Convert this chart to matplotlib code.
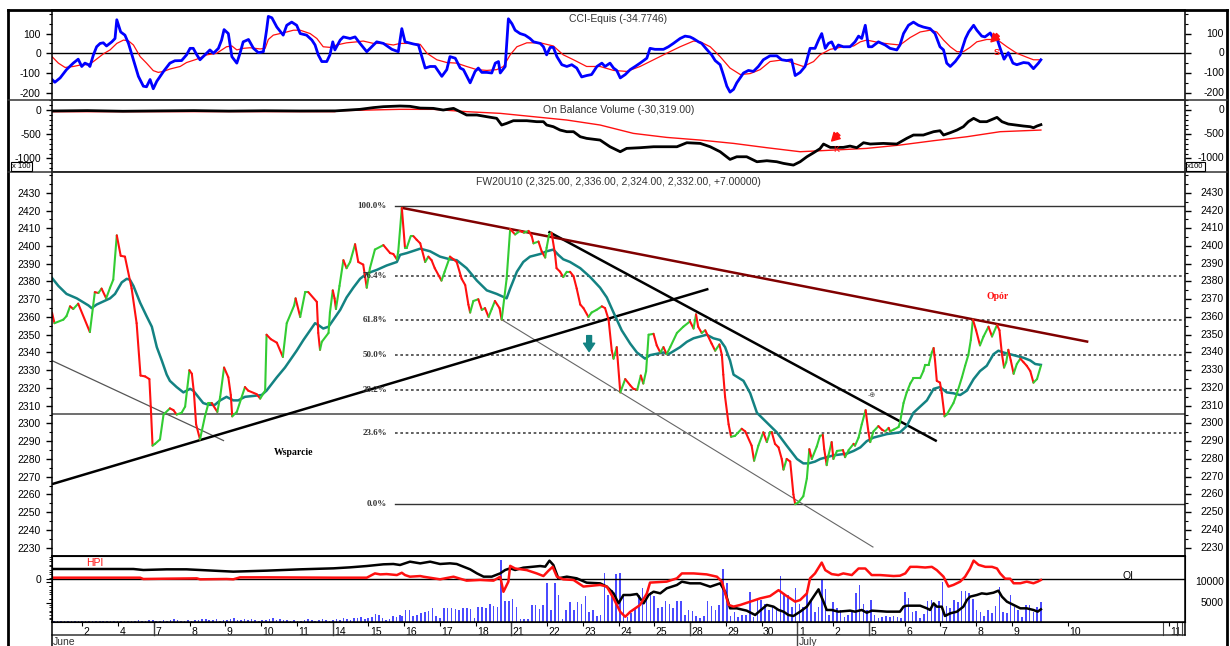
import numpy as np
import matplotlib
matplotlib.use("Agg")
import matplotlib.pyplot as plt
import matplotlib.transforms as mtransforms
from matplotlib.collections import LineCollection
from matplotlib.lines import Line2D
from matplotlib.ticker import MultipleLocator

plt.rcParams['font.family'] = ['Liberation Sans', 'DejaVu Sans']

# ---------------- data (x = trading session index, June 1 = 0) ----------------
price_pts = [
    (0.00, 2362.5), (0.07, 2356.5), (0.32, 2358.5), (0.41, 2360.5), (0.51, 2366), (0.60, 2364.5),
    (0.74, 2367.5), (1.07, 2351.5), (1.21, 2374), (1.31, 2373.5), (1.40, 2376), (1.53, 2370.5),
    (1.64, 2376.5), (1.73, 2381), (1.83, 2406), (1.94, 2394.5), (2.06, 2394), (2.25, 2376),
    (2.39, 2356.5), (2.50, 2327), (2.63, 2326.5), (2.75, 2325), (2.79, 2309.5), (2.84, 2287.5),
    (2.91, 2288.5), (3.05, 2291), (3.15, 2305), (3.33, 2308.5), (3.43, 2307.5), (3.52, 2305),
    (3.66, 2306), (3.76, 2309.5), (3.88, 2330), (3.95, 2328), (4.01, 2317), (4.07, 2299.5),
    (4.18, 2291), (4.32, 2304), (4.42, 2311.5), (4.51, 2311.5), (4.67, 2306.5), (4.75, 2315),
    (4.86, 2331.5), (4.98, 2326), (5.05, 2316), (5.09, 2304), (5.22, 2306.5), (5.45, 2320.5),
    (5.54, 2318.5), (5.78, 2316.5), (5.88, 2314), (6.02, 2318.5), (6.06, 2350), (6.18, 2347.5),
    (6.35, 2345.5), (6.52, 2337.5), (6.63, 2356.5), (6.84, 2366.5), (6.88, 2370.5), (7.01, 2360),
    (7.15, 2374), (7.24, 2374), (7.48, 2368.5), (7.52, 2351), (7.57, 2341.5), (7.62, 2346),
    (7.81, 2351), (7.85, 2362.5), (7.93, 2375), (7.98, 2370.5), (8.02, 2364.5), (8.12, 2377.5),
    (8.23, 2392), (8.32, 2387.5), (8.42, 2391), (8.56, 2401), (8.65, 2391), (8.79, 2389.5),
    (8.89, 2376.5), (8.98, 2387.5), (9.12, 2398), (9.36, 2400.5), (9.55, 2396), (9.64, 2395.5),
    (9.74, 2392.5), (9.78, 2397), (9.88, 2421.5), (9.97, 2399), (10.02, 2399), (10.13, 2405.5),
    (10.21, 2405.5), (10.30, 2403.5), (10.40, 2401.5), (10.54, 2391), (10.63, 2394), (10.72, 2392),
    (10.81, 2387.5), (11.00, 2380.5), (11.09, 2385.5), (11.24, 2394), (11.34, 2392.5), (11.43, 2391),
    (11.57, 2381.5), (11.67, 2378), (11.76, 2367), (11.81, 2362.5), (11.90, 2369), (12.04, 2370),
    (12.14, 2364), (12.23, 2365), (12.33, 2360), (12.42, 2364.5), (12.51, 2369), (12.64, 2365),
    (12.70, 2358.5), (12.84, 2381.5), (12.94, 2409.5), (13.08, 2406.5), (13.22, 2408.5), (13.33, 2407.5),
    (13.46, 2408.5), (13.55, 2405.5), (13.60, 2401.5), (13.74, 2402.5), (13.83, 2397), (13.93, 2393.5),
    (13.97, 2399), (14.04, 2406.5), (14.11, 2407.5), (14.21, 2395), (14.25, 2387.5), (14.35, 2385.5),
    (14.44, 2382.5), (14.54, 2385.5), (14.63, 2385.5), (14.73, 2383), (14.82, 2376), (14.92, 2367),
    (15.01, 2365), (15.15, 2360), (15.24, 2362.5), (15.38, 2364), (15.53, 2366), (15.62, 2365),
    (15.72, 2358.5), (15.81, 2341), (15.86, 2336.5), (15.95, 2343), (16.05, 2317.5), (16.19, 2325),
    (16.33, 2321.5), (16.42, 2319.5), (16.53, 2319), (16.63, 2327), (16.70, 2322.5), (16.78, 2329.5),
    (16.85, 2350), (16.99, 2350.5), (17.08, 2344), (17.18, 2340), (17.27, 2343), (17.36, 2339),
    (17.46, 2343), (17.65, 2351), (17.83, 2354.5), (18.02, 2357.5), (18.12, 2353.5), (18.19, 2361.5),
    (18.25, 2354.5), (18.35, 2351), (18.45, 2352.5), (18.63, 2345), (18.73, 2341), (18.85, 2344.5),
    (18.92, 2338.5), (18.96, 2327.5), (19.01, 2315), (19.11, 2299.5), (19.18, 2292.5), (19.29, 2293),
    (19.48, 2297), (19.58, 2295.5), (19.76, 2287.5), (19.83, 2279), (19.95, 2287.5), (20.09, 2295),
    (20.19, 2289.5), (20.28, 2295), (20.33, 2295), (20.42, 2288.5), (20.52, 2286.5), (20.61, 2280),
    (20.66, 2274), (20.75, 2280), (20.85, 2278.5), (20.94, 2260), (20.99, 2254.5), (21.08, 2255.5),
    (21.22, 2259), (21.32, 2269), (21.39, 2285.5), (21.46, 2280), (21.60, 2287), (21.69, 2293),
    (21.77, 2293.5), (21.81, 2285.5), (21.88, 2276.5), (21.93, 2282), (22.02, 2289.5), (22.07, 2280),
    (22.17, 2284.5), (22.34, 2285), (22.40, 2281), (22.50, 2285), (22.64, 2288.5), (22.68, 2287.5),
    (22.78, 2292), (22.87, 2299.5), (22.98, 2307.5), (23.06, 2295), (23.11, 2289.5), (23.20, 2295.5),
    (23.34, 2298.5), (23.44, 2296.5), (23.53, 2295.5), (23.63, 2297.5), (23.67, 2295.5), (23.77, 2296.5),
    (23.91, 2298), (23.95, 2300.5), (24.05, 2311.5), (24.14, 2317.5), (24.24, 2322.5), (24.33, 2325.5),
    (24.52, 2325.5), (24.61, 2329.5), (24.66, 2333), (24.76, 2333), (24.85, 2340), (24.90, 2342.5),
    (24.94, 2335.5), (24.99, 2324), (25.08, 2323), (25.13, 2317), (25.21, 2304), (25.27, 2305),
    (25.46, 2311.5), (25.56, 2317), (25.70, 2326), (25.79, 2332.5), (25.88, 2338.5), (25.95, 2347),
    (26.01, 2358.5), (26.10, 2352.5), (26.21, 2344), (26.31, 2349), (26.45, 2354.5), (26.55, 2349),
    (26.69, 2355.5), (26.76, 2352.5), (26.83, 2339), (26.89, 2331.5), (26.95, 2334.5), (27.01, 2341.5),
    (27.08, 2335.5), (27.16, 2328), (27.25, 2333.5), (27.35, 2336.5), (27.44, 2334.5), (27.53, 2332.5),
    (27.63, 2329.5), (27.72, 2323), (27.82, 2325), (27.93, 2332.5),
]

price_ma = [
    (0.00, 2382), (0.18, 2377.5), (0.41, 2373), (0.70, 2370.5), (1.03, 2366.5), (1.12, 2365),
    (1.26, 2367), (1.64, 2370.5), (1.78, 2373), (1.97, 2379.5), (2.11, 2381.5), (2.20, 2381),
    (2.30, 2377.5), (2.49, 2368), (2.67, 2360.5), (2.82, 2354.5), (2.96, 2343), (3.10, 2335.5),
    (3.24, 2327.5), (3.33, 2324), (3.52, 2320.5), (3.71, 2317.5), (3.90, 2319.5), (3.99, 2318.5),
    (4.13, 2315), (4.27, 2311.5), (4.42, 2310.5), (4.60, 2310.5), (4.75, 2313), (4.93, 2315),
    (5.12, 2313), (5.26, 2313), (5.45, 2315), (5.92, 2316), (6.06, 2318.5), (6.35, 2326),
    (6.58, 2331.5), (6.72, 2335.5), (6.91, 2341), (7.10, 2347), (7.29, 2352.5), (7.43, 2356.5),
    (7.52, 2355.5), (7.66, 2353.5), (7.81, 2354.5), (7.95, 2358.5), (8.14, 2364), (8.32, 2371),
    (8.51, 2376.5), (8.70, 2381.5), (8.89, 2384.5), (9.17, 2386.5), (9.45, 2389), (9.74, 2391),
    (9.83, 2395), (10.02, 2396), (10.40, 2398.5), (10.68, 2397), (10.96, 2394), (11.24, 2392.5),
    (11.43, 2392), (11.71, 2387.5), (12.00, 2380.5), (12.28, 2375), (12.56, 2373), (12.84, 2370.5),
    (12.94, 2376), (13.13, 2385.5), (13.31, 2391), (13.50, 2394), (13.79, 2395.5), (13.97, 2397),
    (14.16, 2398), (14.30, 2395), (14.44, 2392.5), (14.63, 2391), (14.92, 2387.5), (15.20, 2382.5),
    (15.48, 2376.5), (15.67, 2371), (15.86, 2362.5), (16.09, 2352.5), (16.33, 2345), (16.52, 2340),
    (16.75, 2336.5), (16.89, 2338.5), (17.27, 2340), (17.41, 2339), (17.74, 2343), (17.93, 2346),
    (18.12, 2348), (18.49, 2350), (18.68, 2348), (18.87, 2347), (19.01, 2343), (19.15, 2335.5),
    (19.25, 2327.5), (19.53, 2324), (19.72, 2317), (19.91, 2306), (20.19, 2300.5), (20.47, 2295),
    (20.75, 2287.5), (21.04, 2280), (21.22, 2277.5), (21.37, 2277.5), (21.55, 2278.5), (21.70, 2280),
    (21.88, 2281), (22.07, 2282), (22.45, 2283), (22.64, 2284.5), (22.83, 2286.5), (23.01, 2290),
    (23.20, 2292), (23.58, 2294), (23.95, 2295), (24.14, 2298.5), (24.33, 2306), (24.52, 2309.5),
    (24.71, 2313), (24.90, 2319.5), (25.08, 2320.5), (25.27, 2317.5), (25.46, 2317), (25.65, 2316),
    (25.84, 2318.5), (26.03, 2325), (26.21, 2329.5), (26.40, 2332.5), (26.59, 2339), (26.73, 2341),
    (26.87, 2340), (27.16, 2338.5), (27.44, 2337), (27.63, 2335.5), (27.77, 2333.5), (27.93, 2333),
]

cci = [
    (0.00, -133), (0.08, -147), (0.23, -125), (0.41, -83), (0.60, -50), (0.74, -30), (0.84, -67),
    (0.93, -50), (1.03, -58), (1.07, -67), (1.17, -8), (1.26, 33), (1.36, 50), (1.45, 53), (1.54, 37),
    (1.69, 58), (1.78, 75), (1.83, 170), (1.87, 147), (1.94, 108), (2.06, 92), (2.16, 50), (2.30, -33),
    (2.44, -117), (2.58, -167), (2.67, -170), (2.77, -133), (2.86, -180), (2.96, -142), (3.15, -92),
    (3.33, -50), (3.47, -38), (3.66, -37), (3.80, -8), (3.90, 25), (3.99, 25), (4.09, -8), (4.18, -33),
    (4.32, -8), (4.46, 17), (4.56, 0), (4.70, 25), (4.79, 67), (4.86, 120), (4.98, 100), (5.08, -17),
    (5.22, -50), (5.31, 0), (5.40, 58), (5.55, 70), (5.69, 25), (5.83, 3), (5.97, 8), (6.06, 117),
    (6.11, 187), (6.21, 180), (6.35, 133), (6.53, 92), (6.63, 142), (6.77, 158), (6.91, 142), (7.01, 100),
    (7.19, 92), (7.34, 67), (7.43, 42), (7.52, -8), (7.62, -42), (7.76, -42), (7.85, -8), (7.93, 58),
    (7.99, 17), (8.14, 67), (8.23, 83), (8.42, 75), (8.56, 83), (8.70, 50), (8.89, 8), (9.03, 33),
    (9.17, 58), (9.36, 50), (9.60, 20), (9.78, 8), (9.88, 125), (9.97, 58), (10.21, 47), (10.35, 42),
    (10.54, -75), (10.68, -67), (10.82, -67), (11.01, -117), (11.15, -83), (11.24, -17), (11.39, -25),
    (11.53, -75), (11.62, -83), (11.81, -150), (11.95, -92), (12.04, -75), (12.14, -97), (12.28, -97),
    (12.42, -100), (12.52, -50), (12.61, -42), (12.66, -100), (12.80, -67), (12.89, 175), (12.99, 150),
    (13.08, 117), (13.22, 100), (13.36, 92), (13.50, 75), (13.60, 58), (13.79, 50), (13.88, 33),
    (13.97, -8), (14.07, 30), (14.16, 30), (14.26, -17), (14.40, -58), (14.54, -67), (14.68, -58),
    (14.82, -75), (14.96, -120), (15.10, -113), (15.24, -108), (15.39, -67), (15.53, -50), (15.62, -67),
    (15.76, -50), (15.86, -75), (15.95, -87), (16.05, -125), (16.19, -108), (16.33, -83), (16.47, -67),
    (16.61, -50), (16.80, -25), (16.89, 25), (17.03, 20), (17.27, 20), (17.41, 33), (17.55, 50),
    (17.74, 75), (17.88, 87), (18.02, 83), (18.11, 75), (18.26, 58), (18.35, 50), (18.49, 20),
    (18.63, -8), (18.73, -37), (18.87, -58), (18.96, -108), (19.06, -167), (19.15, -197), (19.25, -183),
    (19.34, -150), (19.53, -100), (19.67, -87), (19.81, -92), (19.95, -67), (20.09, -33), (20.28, -13),
    (20.47, -13), (20.61, -33), (20.75, -37), (20.89, -33), (20.99, -113), (21.13, -97), (21.27, -67),
    (21.41, 25), (21.55, 25), (21.65, 67), (21.74, 100), (21.84, 25), (21.93, 50), (22.02, 58),
    (22.12, 20), (22.21, 42), (22.35, 33), (22.54, 33), (22.68, 58), (22.78, 87), (22.87, 75),
    (22.97, 142), (23.06, 33), (23.16, 33), (23.34, 58), (23.53, 42), (23.67, 25), (23.86, 17),
    (23.95, 42), (24.05, 100), (24.19, 142), (24.33, 158), (24.47, 142), (24.61, 133), (24.80, 125),
    (24.94, 100), (25.08, 33), (25.18, 17), (25.27, -50), (25.37, -67), (25.51, -42), (25.65, -8),
    (25.80, 75), (25.89, 108), (26.03, 142), (26.12, 117), (26.26, 87), (26.35, 83), (26.50, 103),
    (26.59, 75), (26.68, 80), (26.78, 25), (26.89, -30), (27.01, 3), (27.14, -50), (27.25, -58),
    (27.44, -47), (27.58, -50), (27.72, -78), (27.86, -50), (27.93, -33),
]

cci_ma = [
    (0.00, -17), (0.18, -50), (0.37, -72), (0.60, -67), (0.84, -58), (1.03, -58), (1.17, -42),
    (1.45, -3), (1.64, 17), (1.83, 50), (2.02, 67), (2.16, 63), (2.30, 42), (2.49, -17), (2.67, -50),
    (2.86, -88), (3.00, -97), (3.15, -92), (3.33, -80), (3.62, -67), (3.80, -47), (4.09, -30),
    (4.37, -8), (4.65, 0), (4.93, 33), (5.08, 37), (5.22, 17), (5.40, 25), (5.59, 28), (5.88, 22),
    (6.02, 25), (6.11, 70), (6.25, 92), (6.44, 100), (6.63, 108), (6.82, 117), (7.01, 117), (7.29, 100),
    (7.48, 75), (7.66, 33), (7.85, 30), (8.04, 42), (8.32, 53), (8.61, 58), (8.79, 62), (9.08, 50),
    (9.36, 50), (9.64, 42), (9.83, 50), (10.11, 50), (10.40, 45), (10.59, 0), (10.87, -33), (11.15, -47),
    (11.43, -50), (11.71, -67), (12.00, -83), (12.28, -87), (12.56, -83), (12.75, -67), (12.94, -8),
    (13.13, 33), (13.41, 53), (13.79, 53), (14.16, 37), (14.44, -8), (14.73, -33), (15.10, -67),
    (15.48, -67), (15.86, -87), (16.23, -92), (16.61, -67), (16.99, -33), (17.36, 0), (17.74, 33),
    (18.12, 62), (18.31, 58), (18.59, 33), (18.87, -17), (19.15, -75), (19.44, -108), (19.72, -103),
    (20.00, -83), (20.28, -42), (20.66, -33), (20.94, -50), (21.22, -67), (21.51, -42), (21.69, -8),
    (21.98, 20), (22.35, 33), (22.64, 37), (22.83, 58), (23.01, 67), (23.39, 53), (23.67, 47),
    (23.95, 42), (24.24, 80), (24.52, 108), (24.80, 117), (24.99, 108), (25.18, 67), (25.37, 33),
    (25.56, 8), (25.74, 8), (25.93, 30), (26.12, 58), (26.40, 70), (26.69, 70), (26.97, 33),
    (27.25, 0), (27.53, -20), (27.72, -33), (27.93, -33),
]

# On Balance Volume, in hundreds of contracts
obv = [
    (0.0, -20), (1.0, -12), (2.0, -25), (3.0, -18), (4.0, -12), (5.0, -22), (6.0, -15), (7.0, -20),
    (8.0, -18), (8.70, 14), (9.08, 50), (9.36, 69), (9.83, 83), (10.11, 76), (10.40, 40), (10.77, 34),
    (11.05, 0), (11.34, 34), (11.71, -103), (12.00, -103), (12.28, -138), (12.56, -172), (12.70, -310),
    (12.84, -276), (13.03, -221), (13.41, -221), (13.69, -241), (13.88, -241), (13.97, -310),
    (14.16, -345), (14.35, -414), (14.54, -448), (14.73, -448), (14.92, -552), (15.10, -586),
    (15.48, -621), (15.76, -759), (16.05, -862), (16.23, -793), (16.61, -779), (16.99, -759),
    (17.36, -759), (17.65, -759), (17.93, -676), (18.31, -690), (18.59, -759), (18.87, -862),
    (19.15, -1021), (19.34, -966), (19.62, -966), (19.91, -1069), (20.19, -1048), (20.47, -1069),
    (20.66, -1103), (20.94, -1138), (21.13, -1069), (21.32, -966), (21.51, -883), (21.69, -800),
    (21.79, -703), (21.98, -772), (22.35, -772), (22.54, -745), (22.73, -779), (22.92, -676),
    (23.11, -703), (23.48, -690), (23.86, -703), (24.14, -586), (24.33, -517), (24.61, -517),
    (24.90, -448), (25.08, -428), (25.18, -517), (25.37, -469), (25.56, -414), (25.74, -345),
    (25.88, -241), (26.03, -172), (26.21, -241), (26.40, -241), (26.69, -152), (26.83, -241),
    (27.01, -290), (27.44, -331), (27.63, -345), (27.72, -366), (27.82, -331), (27.93, -303),
]
obv_ma = [
    (0.0, -35), (5.0, -33), (7.98, -34), (8.10, -14), (9.83, 14), (10.77, 14), (11.71, -34),
    (12.66, -69), (13.60, -138), (14.54, -207), (15.48, -310), (16.42, -483), (17.36, -566),
    (18.31, -621), (19.25, -690), (20.19, -779), (21.13, -862), (22.07, -828), (23.01, -793),
    (23.95, -724), (24.90, -634), (25.84, -552), (26.78, -448), (27.93, -414),
]

# open interest (right scale) and HPI (left scale)
oi = [
    (0.00, 13140), (2.30, 13140), (2.58, 12900), (3.24, 13060), (3.80, 13060), (4.56, 12740),
    (5.12, 12500), (6.06, 12740), (7.01, 13060), (7.95, 13300), (8.42, 13540), (8.89, 13860),
    (9.36, 14270), (9.64, 14350), (9.83, 14110), (9.97, 14510), (10.11, 14910), (10.40, 14500),
    (10.68, 14910), (10.96, 14350), (11.24, 14510), (11.43, 14350), (11.62, 13700), (11.81, 13060),
    (12.00, 12090), (12.19, 11290), (12.42, 11290), (12.66, 12090), (12.80, 12900), (12.94, 13300),
    (13.08, 12900), (13.31, 13460), (13.60, 13700), (13.79, 13860), (13.93, 13700), (14.05, 15150),
    (14.16, 14110), (14.30, 10890), (14.54, 11290), (14.82, 10890), (15.10, 9840), (15.48, 9680),
    (15.67, 8870), (15.86, 7260), (16.00, 4850), (16.14, 6860), (16.33, 6860), (16.52, 7100),
    (16.71, 4850), (16.85, 6860), (16.99, 7660), (17.18, 7260), (17.36, 8470), (17.65, 9280),
    (17.79, 10080), (18.02, 9680), (18.31, 9680), (18.59, 8870), (18.87, 9680), (19.01, 7660),
    (19.15, 3640), (19.34, 3640), (19.62, 3080), (19.86, 2030), (20.00, 3080), (20.19, 4450),
    (20.38, 4040), (20.52, 3240), (20.66, 2840), (20.80, 2030), (20.94, 1790), (21.13, 2840),
    (21.32, 4040), (21.51, 6460), (21.65, 8230), (21.69, 7260), (21.79, 5250), (21.88, 3240),
    (22.02, 3240), (22.21, 2840), (22.54, 3080), (22.68, 2840), (22.87, 3240), (23.01, 2590),
    (23.16, 3080), (23.58, 2840), (23.95, 2840), (24.05, 4040), (24.14, 4280), (24.52, 4280),
    (24.71, 3640), (24.80, 3240), (24.90, 4850), (24.99, 4040), (25.13, 4040), (25.22, 1790),
    (25.37, 2430), (25.56, 2840), (25.74, 4040), (25.84, 5650), (25.93, 6460), (26.12, 6860),
    (26.26, 7260), (26.40, 7100), (26.59, 7420), (26.73, 7910), (26.83, 6460), (26.97, 5250),
    (27.16, 4450), (27.35, 3640), (27.53, 3640), (27.72, 3240), (27.84, 2840), (27.93, 3400),
]
hpi = [
    (0.00, 4), (2.49, 4), (2.58, 0), (3.24, 1), (4.09, 2), (4.18, -1), (4.93, 0), (5.12, -1),
    (5.31, 5), (6.06, 5), (7.95, 4), (8.89, 4), (9.12, 17), (9.27, 14), (9.45, 15), (9.74, 12),
    (9.88, 19), (9.97, 12), (10.11, 7), (10.40, 9), (10.49, 7), (10.96, -1), (11.34, 7), (11.71, -5),
    (12.09, -3), (12.47, -5), (12.66, 7), (12.75, -39), (12.89, -8), (12.94, 40), (13.08, 32),
    (13.41, 27), (13.69, 17), (13.88, 9), (14.02, 25), (14.14, 37), (14.26, 7), (14.44, -1),
    (14.73, -3), (15.01, -23), (15.48, -18), (15.67, -23), (15.86, -59), (16.05, -100), (16.19, -115),
    (16.33, -100), (16.61, -79), (16.80, -44), (16.89, -11), (17.36, -8), (17.65, 2), (17.79, 17),
    (18.12, 17), (18.49, 14), (18.78, 7), (18.92, -8), (19.11, -79), (19.25, -84), (19.44, -79),
    (19.72, -69), (20.00, -59), (20.28, -52), (20.52, -34), (20.71, -49), (20.85, -59), (20.99, -69),
    (21.13, -64), (21.32, -44), (21.41, 2), (21.55, 17), (21.74, 50), (21.84, 27), (22.02, 15),
    (22.21, 12), (22.35, 17), (22.59, 12), (22.78, 32), (22.97, 32), (23.15, 12), (23.39, 12),
    (23.77, 9), (23.95, 10), (24.10, 17), (24.24, 37), (24.43, 37), (24.66, 35), (24.85, 37),
    (24.99, 27), (25.18, 7), (25.32, -23), (25.46, -18), (25.65, -8), (25.79, 7), (25.93, 32),
    (26.03, 56), (26.17, 43), (26.36, 37), (26.55, 37), (26.69, 32), (26.78, 17), (26.92, 1),
    (27.06, 1), (27.16, -13), (27.35, -13), (27.53, -8), (27.72, -13), (27.84, -8), (27.93, -3),
]

# hourly volume, three stretches of the chart
vol_early = [600, 500, 600, 700, 500, 600, 500, 600, 700, 500, 600, 700, 500, 600, 500, 700, 600, 500, 600, 500,
             500, 600, 700, 600, 800, 700, 600, 800, 900, 700, 600, 800, 700, 900, 1100, 800, 700, 600, 800, 700,
             900, 800, 1000, 1100, 900, 800, 1000, 700, 900, 800, 1000, 1200, 900, 800, 1100, 900, 1000, 800, 700, 900,
             800, 1000, 1200, 900, 1100, 800, 900, 700, 800, 600, 700, 900, 1000, 800, 700, 900, 1100, 800, 700, 900,
             1000, 900, 1200, 1100, 900, 1300, 1200, 1500, 1000, 1400, 1600, 2300, 2000, 1200, 800, 1000, 1800, 1600, 2000]
vol_mid = [1800, 3200, 3200, 1800, 2000, 2600, 2800, 3000, 3600, 1800, 1200, 3600, 3600, 3600, 3400, 3200, 3800, 3600,
           3400, 1200, 4000, 4000, 3800, 4800, 4200, 4000, 15200, 5400, 5400, 5800, 4000, 1000, 1000, 1000, 4400, 4400,
           3400, 4400, 9700, 3200, 9700, 6900, 1000, 3200, 5200, 3200, 5200, 4800, 6600, 2800, 3200, 1800, 2000, 12100,
           6900, 8100, 11900, 12100, 6500, 1600, 2400, 3400, 6900, 8500, 7300, 7700, 6600, 3600, 4000, 5400, 4800, 3600,
           5400, 5400, 2000, 3200, 3000, 1800, 1200, 1800, 5400, 4200, 3200, 4400, 13100, 9700, 1800, 2800, 1500, 2000,
           2000, 7700, 1600, 5700, 5700, 4800, 3200, 4200, 3200, 11400, 7300, 6900, 4000, 8500, 4800, 4000, 8100, 5700,
           2800, 4000]
vol_late = [10600, 8200, 2000, 5200, 3600, 3200, 1600, 2000, 3200, 7400, 9300, 4800, 3200, 5700, 2000, 1200, 1600, 1800,
            1600, 1800, 1600, 1200, 7700, 6100, 2800, 3000, 1200, 2300, 5500, 5700, 4400, 5400, 10100, 4200, 3600, 5700,
            5200, 7900, 7900, 7400, 5800, 3200, 2800, 1800, 3200, 2600, 4200, 8900, 2800, 2400, 6900, 4000, 3200, 1600,
            4400, 4400, 2800, 4000, 5200]
vol_spans = [(0.05, 9.83), (9.88, 21.65), (21.74, 27.93)]

# trend lines drawn on the price chart: (x0, y0, x1, y1)
resistance = (9.88, 2421.5, 29.27, 2346)
support = (0.0, 2265.8, 18.54, 2375.8)
down_line = (14.02, 2408.1, 24.99, 2290.0)
channel_line = (12.70, 2358.5, 23.20, 2230.2)
left_line = (0.0, 2335.4, 4.86, 2290.2)
pivot_level = 2305.2
fib_low, fib_high = 2254.8, 2422.7
fib_levels = [0.0, 23.6, 38.2, 50.0, 61.8, 76.4, 100.0]
fib_start = 9.69

session_ticks = [0.857, 1.867, 2.876, 3.886, 4.895, 5.905, 6.915, 7.924, 8.934, 9.943, 10.953, 11.963,
                 12.972, 13.982, 14.991, 16.001, 17.011, 18.02, 19.03, 20.04, 21.049, 22.059, 23.068,
                 24.078, 25.088, 26.097, 27.107, 28.7, 31.55]
session_labels = ['2', '4', '7', '8', '9', '10', '11', '14', '15', '16', '17', '18', '21', '22', '23', '24',
                  '25', '28', '29', '30', '1', '2', '5', '6', '7', '8', '9', '10', '11']
week_starts = [2.876, 7.924, 12.972, 18.02, 23.068]
month_start = 21.049

# ---------------- layout ----------------
W, H = 1230, 646
FS = 7.5
GREEN, RED, TEAL, BLUE = '#33cc33', '#ff1010', '#138282', '#0000ff'
X0, X1 = 52, 1185
XLIM = (0, 32.0)
ARROW = dict(arrowstyle='simple,head_width=0.9,head_length=0.8,tail_width=0.4',
             mutation_scale=7, shrinkA=0, shrinkB=0)


def fx(px):
    return px / W


def fy(py):
    return 1 - py / H


def panel(top, bottom):
    return fig.add_axes([fx(X0), fy(bottom), fx(X1) - fx(X0), (bottom - top) / H])


def xy(pts):
    a = np.array(pts, dtype=float)
    return a[:, 0], a[:, 1]


def right_labels(ax, ticks, labels):
    tr = mtransforms.blended_transform_factory(ax.transAxes, ax.transData)
    xr = (1224 - X0) / (X1 - X0)
    for t, s in zip(ticks, labels):
        ax.text(xr, t, s, transform=tr, ha='right', va='center', fontsize=FS, clip_on=False)


def style(ax, ticks, labels, minor):
    ax.set_xlim(*XLIM)
    ax.set_yticks(ticks)
    ax.set_yticklabels(labels, fontsize=FS)
    ax.yaxis.set_minor_locator(MultipleLocator(minor))
    ax.tick_params(axis='y', which='major', direction='out', length=4, width=1, pad=4,
                   left=True, right=True, labelleft=True, labelright=False)
    ax.tick_params(axis='y', which='minor', direction='out', length=2, width=0.8, left=True, right=True)
    ax.tick_params(axis='x', which='both', bottom=False, labelbottom=False)
    for s in ax.spines.values():
        s.set_linewidth(1.1)
    right_labels(ax, ticks, labels)


fig = plt.figure(figsize=(W / 100, H / 100), dpi=100)
fig.patch.set_facecolor('white')

# ---- CCI ----
ax_cci = panel(9.5, 100)
ax_cci.set_ylim(-237, 222)
style(ax_cci, [100, 0, -100, -200], ['100', '0', '-100', '-200'], 50)
ax_cci.axhline(0, color='black', lw=1)
ax_cci.plot(*xy(cci_ma), color=RED, lw=0.9)
ax_cci.plot(*xy(cci), color=BLUE, lw=2.0)
ax_cci.text(0.5, 0.9, 'CCI-Equis (-34.7746)', transform=ax_cci.transAxes, ha='center', va='center',
            fontsize=FS, color='#333333')
ax_cci.annotate('', xy=(26.52, 58), xytext=(5, 5), textcoords='offset points',
                arrowprops=dict(color=RED, **ARROW))
ax_cci.text(26.67, 3, 'S', color=RED, fontsize=6.5, ha='center', va='center', fontweight='bold')

# ---- OBV ----
ax_obv = panel(100, 172)
ax_obv.set_ylim(-1281, 207)
style(ax_obv, [0, -500, -1000], ['0', '-500', '-1000'], 100)
ax_obv.plot(*xy(obv_ma), color=RED, lw=1.0)
ax_obv.plot(*xy(obv), color='black', lw=2.0)
ax_obv.text(0.5, 0.86, 'On Balance Volume (-30,319.00)', transform=ax_obv.transAxes, ha='center', va='center',
            fontsize=FS, color='#333333')
ax_obv.annotate('', xy=(22.02, -640), xytext=(5, 5), textcoords='offset points',
                arrowprops=dict(color=RED, **ARROW))
ax_obv.text(22.15, -826, 'K', color=RED, fontsize=6.5, ha='center', va='center')
for xpx, txt in [(12, 'x 100'), (1187, 'x100')]:
    fig.text(fx(xpx), fy(166.5), txt, fontsize=5.5, ha='left', va='center',
             bbox=dict(boxstyle='square,pad=0.15', fc='white', ec='black', lw=0.8))

# ---- price ----
ax_px = panel(172, 556)
ax_px.set_ylim(2225.3, 2441.7)
pticks = list(range(2230, 2431, 10))
style(ax_px, pticks, [str(t) for t in pticks], 5)
ax_px.text(0.5, 0.975, 'FW20U10 (2,325.00, 2,336.00, 2,324.00, 2,332.00, +7.00000)', transform=ax_px.transAxes,
           ha='center', va='center', fontsize=FS, color='#333333')

ax_px.axhline(pivot_level, color='#555555', lw=1.2)
for lv in fib_levels:
    val = fib_low + (fib_high - fib_low) * lv / 100
    solid = lv in (0.0, 100.0)
    ax_px.plot([fib_start, XLIM[1]], [val, val], color='#333333' if solid else '#444444', lw=1.0 if solid else 1.2,
               ls='-' if solid else (0, (1.6, 1.6)))
    ax_px.text(fib_start - 0.23, val, f'{lv:.1f}%', ha='right', va='center', fontsize=6.5, color='#333333',
               family=['Liberation Serif', 'DejaVu Serif'], fontweight='bold')

for (a, b, c, d), col, lw in [(left_line, '#555555', 0.9), (channel_line, '#666666', 0.8),
                              (support, 'black', 1.8), (down_line, 'black', 1.8), (resistance, '#800000', 1.8)]:
    ax_px.plot([a, c], [b, d], color=col, lw=lw, solid_capstyle='butt')

ax_px.plot(*xy(price_ma), color=TEAL, lw=1.8)
px_x, px_y = xy(price_pts)
segs = np.stack([np.column_stack([px_x[:-1], px_y[:-1]]), np.column_stack([px_x[1:], px_y[1:]])], axis=1)
seg_cols = np.where(np.diff(px_y) >= 0, GREEN, RED)
ax_px.add_collection(LineCollection(segs, colors=seg_cols, linewidths=1.5, capstyle='round', joinstyle='round'))

ax_px.text(6.81, 2283.5, 'Wsparcie', ha='center', va='center', fontsize=7, fontweight='bold',
           family=['Liberation Serif', 'DejaVu Serif'])
ax_px.text(26.72, 2371.8, 'Opór', ha='center', va='center', fontsize=7, fontweight='bold', color=RED,
           family=['Liberation Serif', 'DejaVu Serif'])
ax_px.annotate('', xy=(15.17, 2340.5), xytext=(15.17, 2349.5),
               arrowprops=dict(arrowstyle='simple,head_width=0.8,head_length=0.6,tail_width=0.35',
                               color=TEAL, mutation_scale=10, shrinkA=0, shrinkB=0))
ax_px.text(23.16, 2316, '-⊕', ha='center', va='center', fontsize=5, color='#555555')

# ---- HPI / OI / volume ----
ax_v = panel(556, 621.7)
ax_v.set_xlim(*XLIM)
ax_v.set_ylim(411, 16280)
for seg, (a, b) in zip([vol_early, vol_mid, vol_late], vol_spans):
    ax_v.bar(np.linspace(a, b, len(seg)), seg, width=0.045, color='#4b4bff', lw=0)
ax_v.plot(*xy(oi), color='black', lw=1.8)
ax_v.set_yticks([5000, 10000])
ax_v.yaxis.set_minor_locator(MultipleLocator(1000))
ax_v.tick_params(axis='y', which='major', direction='out', length=4, left=False, right=True,
                 labelleft=False, labelright=False)
ax_v.tick_params(axis='y', which='minor', direction='out', length=2, left=False, right=True)
right_labels(ax_v, [5000, 10000], ['5000', '10000'])
for s in ax_v.spines.values():
    s.set_linewidth(1.1)

ax_h = ax_v.twinx()
ax_h.set_ylim(-130, 70)
ax_h.axhline(0, color='black', lw=1)
ax_h.plot(*xy(hpi), color=RED, lw=1.8)
ax_h.yaxis.tick_left()
ax_h.set_yticks([0])
ax_h.set_yticklabels(['0'], fontsize=FS)
ax_h.yaxis.set_minor_locator(MultipleLocator(20))
ax_h.tick_params(axis='y', which='major', direction='out', length=4, pad=4)
ax_h.tick_params(axis='y', which='minor', direction='out', length=2)
ax_h.text(1.2, 50, 'HPI', color=RED, fontsize=FS, ha='center', va='center')
ax_h.text(30.4, 9, 'OI', color='black', fontsize=FS, ha='center', va='center')

ax_v.set_xticks(session_ticks)
ax_v.set_xticklabels(session_labels, fontsize=FS)
ax_v.tick_params(axis='x', direction='out', length=3, width=0.8, pad=0.5)
shift = mtransforms.ScaledTranslation(1.5 / 100, 0, fig.dpi_scale_trans)
for lbl in ax_v.get_xticklabels():
    lbl.set_ha('left')
    lbl.set_transform(lbl.get_transform() + shift)
trx = mtransforms.blended_transform_factory(ax_v.transData, ax_v.transAxes)
for w in week_starts:
    ax_v.plot([w, w], [0, -13.3 / 65.7], transform=trx, color='#444444', lw=1, clip_on=False)
ax_v.plot([month_start, month_start], [0, -24.3 / 65.7], transform=trx, color='#444444', lw=1, clip_on=False)
for t in [31.38, 31.78, 31.92]:
    ax_v.plot([t, t], [0, -13.3 / 65.7], transform=trx, color='#444444', lw=0.8, clip_on=False)

fig.text(fx(53), fy(642), 'June', fontsize=FS, ha='left', va='center', color='#333333')
fig.text(fx(799), fy(642), 'July', fontsize=FS, ha='left', va='center', color='#333333')

# ---- frame ----
def fline(x0, y0, x1, y1, lw, col='black'):
    fig.add_artist(Line2D([fx(x0), fx(x1)], [fy(y0), fy(y1)], transform=fig.transFigure, color=col, lw=lw))


fline(8, 9.5, 1227, 9.5, 2.0)
fline(8, 9.5, 8, 646, 2.0)
fline(1227, 9.5, 1227, 646, 2.0)
fline(8, 100, 1227, 100, 1.1, '#333333')
fline(8, 172, 1227, 172, 1.1, '#333333')
fline(X0, 635, X1, 635, 1.1, '#333333')
fline(X0, 621.7, X0, 646, 1.1)
fline(X1, 621.7, X1, 635, 1.1)

fig.savefig('out.png', dpi=100)
